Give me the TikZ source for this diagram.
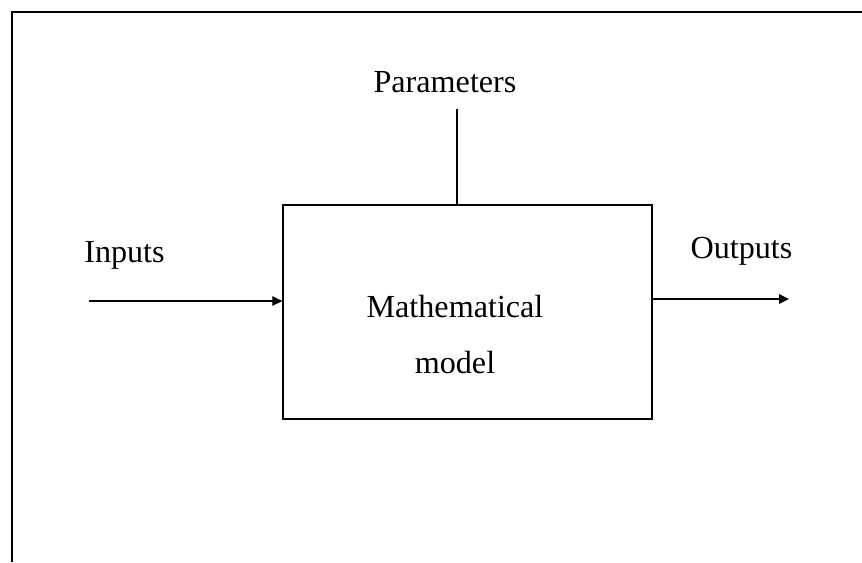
\documentclass[tikz,border=0pt]{standalone}
\usepackage{fontspec}
\setmainfont{Liberation Serif}
\usepackage{tikz}
\usetikzlibrary{arrows.meta}
\tikzset{
  modelbox/.style={draw, line width=0.8pt, minimum width=7.38cm, minimum height=4.28cm,
              inner sep=0pt},
  lbl/.style={anchor=base, inner sep=0pt, font=\fontsize{18.3}{32}\selectfont},
  flow/.style={line width=0.7pt},
  >={Triangle[length=2mm,width=1.9mm]},
}
\begin{document}
\begin{tikzpicture}[x=0.02cm, y=-0.02cm]
\useasboundingbox (0,0) rectangle (862,562);
% frame (top and left edge only)
\draw[line width=1.1pt] (862,12) -- (12,12) -- (12,562);

\node[modelbox] (model) at (467.5,312) {};
\node[lbl] (mtext1) at (455,317) {Mathematical};
\node[lbl] (mtext2) at (455,373) {model};

\node[lbl] (inputs) at (124.5,262) {Inputs};
\node[lbl] (outputs) at (741.5,258) {Outputs};
\node[lbl] (params) at (445,92) {Parameters};

\coordinate (inL) at (89,301);
\coordinate (outR) at (789,299);
\coordinate (parT) at (457,109);

\draw[flow,->] (inL) -- (inL -| model.west);
\draw[flow,->] (outR -| model.east) -- (outR);
\draw[flow] (parT) -- (parT |- model.north);
\end{tikzpicture}
\end{document}
